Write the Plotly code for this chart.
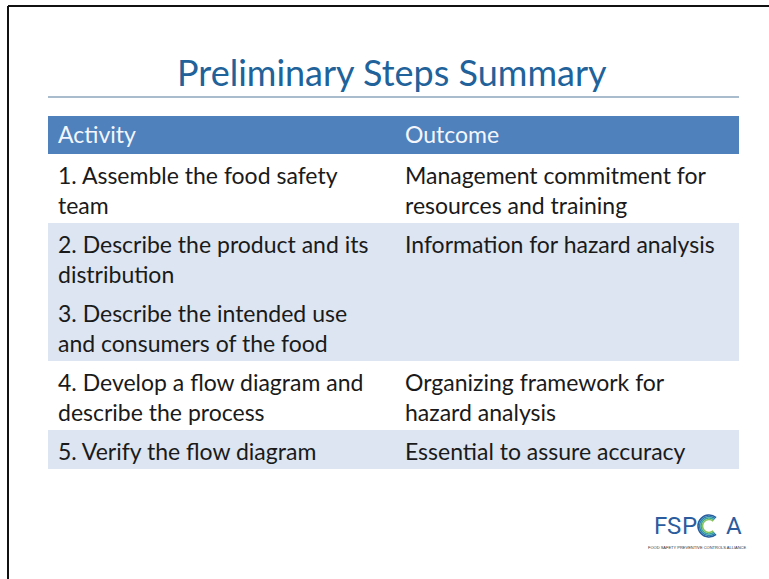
import math
import plotly.graph_objects as go

# ---- data ----
title = "Preliminary Steps Summary"
headers = ["Activity", "Outcome"]
activities = [
    "1. Assemble the food safety<br>team",
    "2. Describe the product and its<br>distribution",
    "3. Describe the intended use<br>and consumers of the food",
    "4. Develop a flow diagram and<br>describe the process",
    "5. Verify the flow diagram",
]
outcomes = [
    "Management commitment for<br>resources and training",
    "Information for hazard analysis",
    "",
    "Organizing framework for<br>hazard analysis",
    "Essential to assure accuracy",
]
# table row groups (rows 2 and 3 share one shaded block)
row_groups = [[0], [1, 2], [3], [4]]
row_fills = ["#ffffff", "#dce5f1", "#ffffff", "#dce5f1"]
logo_letters = ["F", "S", "P", "A"]
logo_tagline = "FOOD SAFETY PREVENTIVE CONTROLS ALLIANCE"

# ---- layout geometry (pixels) ----
W, H = 769, 579
X0, X1 = 48, 739
COL2 = 403
TXT1 = 56
HEAD_TOP, HEAD_BOT = 116, 154
LINE = 30
FONT = "Lato, 'Open Sans', sans-serif"
FS = 23

fig = go.Figure()
shapes = []
ann = []

# slide frame (top and left edges visible)
shapes.append(dict(type="line", x0=8, x1=W + 5, y0=6, y1=6, line=dict(color="#111", width=2)))
shapes.append(dict(type="line", x0=8, x1=8, y0=6, y1=H + 5, line=dict(color="#111", width=2)))

# title and rule
ann.append(dict(x=392, y=72, text=title, showarrow=False, xanchor="center", yanchor="middle",
                font=dict(family=FONT, size=36, color="#21629a")))
shapes.append(dict(type="line", x0=X0, x1=X1, y0=97, y1=97, line=dict(color="#a9bccd", width=2)))

# header
shapes.append(dict(type="rect", x0=X0, x1=X1, y0=HEAD_TOP, y1=HEAD_BOT, fillcolor="#4f81bd",
                   line=dict(width=0), layer="below"))
for x, h in zip([TXT1, COL2], headers):
    ann.append(dict(x=x, y=(HEAD_TOP + HEAD_BOT) / 2 - 1, text=h, showarrow=False, xanchor="left", yanchor="middle",
                    font=dict(family=FONT, size=FS, color="#f4f6fb")))

# body rows
y = HEAD_BOT
for grp, fill in zip(row_groups, row_fills):
    top = y
    cy = top + 21
    ocy = cy
    for k, i in enumerate(grp):
        if k > 0:
            cy += 9
        for line in activities[i].split("<br>"):
            ann.append(dict(x=TXT1, y=cy, text=line, showarrow=False, xanchor="left", yanchor="middle",
                            font=dict(family=FONT, size=FS, color="#1a1a1a")))
            cy += LINE
        for line in (outcomes[i].split("<br>") if outcomes[i] else []):
            ann.append(dict(x=COL2, y=ocy, text=line, showarrow=False, xanchor="left", yanchor="middle",
                            font=dict(family=FONT, size=FS, color="#1a1a1a")))
            ocy += LINE
    bot = max(cy, ocy) - LINE + 18
    shapes.append(dict(type="rect", x0=X0, x1=X1, y0=top, y1=bot, fillcolor=fill, line=dict(width=0), layer="below"))
    y = bot

# logo
def arc_path(cx, cy, r, a0, a1, nseg=3):
    step = (a1 - a0) / nseg
    h = 4.0 / 3.0 * math.tan(math.radians(step) / 4) * r
    def pt(a):
        t = math.radians(a)
        return cx + r * math.cos(t), cy - r * math.sin(t)
    def tan_(a):
        t = math.radians(a)
        return -math.sin(t), -math.cos(t)
    x, yy = pt(a0)
    p = f"M {x:.2f} {yy:.2f}"
    for s in range(nseg):
        b0 = a0 + s * step
        b1 = b0 + step
        p0 = pt(b0); p1 = pt(b1); t0 = tan_(b0); t1 = tan_(b1)
        c1 = (p0[0] + h * t0[0], p0[1] + h * t0[1])
        c2 = (p1[0] - h * t1[0], p1[1] - h * t1[1])
        p += f" C {c1[0]:.2f} {c1[1]:.2f} {c2[0]:.2f} {c2[1]:.2f} {p1[0]:.2f} {p1[1]:.2f}"
    return p

for x, ch in zip([660, 674, 689, 734], logo_letters):
    ann.append(dict(x=x, y=526, text=ch, showarrow=False, xanchor="center", yanchor="middle",
                    font=dict(family="Roboto, sans-serif", size=24, color="#2b5d9e")))
for r, c in zip([11, 9.5, 8, 6.5], ["#2b5d9e", "#2a7fb0", "#3aa59a", "#86c35a"]):
    shapes.append(dict(type="path", path=arc_path(709, 526, r, 50, 310), line=dict(color=c, width=1.6)))
ann.append(dict(x=697, y=547, text=logo_tagline, showarrow=False,
                xanchor="center", yanchor="middle", font=dict(family="'Liberation Sans', sans-serif", size=4, color="#333")))

fig.update_layout(
    width=W, height=H, margin=dict(l=0, r=0, t=0, b=0),
    paper_bgcolor="#ffffff", plot_bgcolor="#ffffff",
    xaxis=dict(range=[0, W], visible=False, fixedrange=True),
    yaxis=dict(range=[H, 0], visible=False, fixedrange=True),
    shapes=shapes, annotations=ann, showlegend=False,
)
fig.write_html("out.html", config={"displayModeBar": False},
               post_script="document.body.style.margin='0px';")
